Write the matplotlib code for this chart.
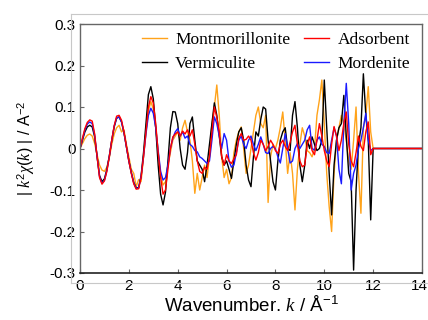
import numpy as np
import matplotlib
matplotlib.use('Agg')
import matplotlib.pyplot as plt
from matplotlib.lines import Line2D
from matplotlib.transforms import ScaledTranslation

plt.rcParams['font.family'] = 'Liberation Sans'
plt.rcParams['mathtext.fontset'] = 'custom'
plt.rcParams['mathtext.rm'] = 'Liberation Sans'
plt.rcParams['mathtext.it'] = 'Liberation Serif:italic'

# k grid (0 .. 12 step 0.1) plus the zero tail out to 14
k = list(np.round(np.arange(0, 12.05, 0.1), 1)) + [14.0]

montmorillonite = [
    0.000, 0.012, 0.024, 0.032, 0.035, 0.030, 0.012, -0.015, -0.040, -0.052,
    -0.055, -0.045, -0.022, 0.010, 0.035, 0.050, 0.056, 0.040, 0.045, 0.010,
    -0.020, -0.050, -0.060, -0.092, -0.075, -0.080, -0.020, 0.040, 0.090, 0.113,
    0.095, 0.050, -0.010, -0.060, -0.088, -0.080, -0.040, -0.010, 0.020, 0.030,
    0.040, 0.020, 0.050, 0.068, 0.040, 0.020, -0.030, -0.108, -0.060, -0.100,
    -0.070, -0.040, -0.070, -0.020, 0.060, 0.100, 0.153, 0.080, -0.020, -0.070,
    -0.050, -0.085, -0.070, -0.010, 0.020, 0.040, 0.052, 0.000, -0.060, -0.040,
    0.000, 0.040, 0.080, 0.100, 0.060, 0.050, 0.080, -0.130, -0.020, 0.010,
    0.000, 0.020, 0.050, 0.088, 0.020, -0.060, -0.010, -0.060, -0.148, -0.050,
    0.010, 0.050, 0.030, -0.005, -0.010, -0.020, 0.000, 0.080, 0.117, 0.165,
    0.060, -0.060, -0.140, -0.200, -0.060, 0.020, 0.050, 0.080, 0.060, 0.020,
    -0.030, -0.050, 0.020, 0.100, -0.060, -0.156, 0.050, 0.080, 0.149, 0.040,
    0.000, 0.000]

vermiculite = [
    0.000, 0.020, 0.040, 0.052, 0.056, 0.052, 0.028, -0.020, -0.065, -0.080,
    -0.073, -0.050, -0.018, 0.020, 0.052, 0.073, 0.076, 0.064, 0.038, 0.004,
    -0.030, -0.058, -0.082, -0.095, -0.094, -0.066, -0.010, 0.060, 0.130, 0.149,
    0.120, 0.050, -0.040, -0.110, -0.136, -0.105, -0.030, 0.050, 0.089, 0.088,
    0.060, 0.000, -0.040, -0.050, -0.010, 0.060, 0.076, 0.020, -0.030, -0.040,
    -0.050, -0.080, -0.040, 0.010, 0.060, 0.110, 0.080, 0.030, -0.020, -0.040,
    -0.030, -0.050, -0.072, -0.030, 0.010, 0.040, 0.050, 0.020, -0.040, -0.076,
    -0.092, -0.020, 0.040, 0.030, 0.070, 0.100, 0.095, 0.020, -0.030, -0.080,
    -0.100, -0.030, 0.020, 0.040, 0.050, 0.000, -0.005, 0.080, 0.113, 0.050,
    -0.040, -0.080, -0.040, 0.020, 0.000, 0.028, 0.010, -0.005, 0.000, 0.020,
    0.165, 0.050, -0.060, -0.160, -0.040, 0.020, 0.050, 0.060, 0.128, 0.030,
    -0.060, -0.080, -0.293, -0.100, 0.010, 0.050, 0.180, 0.080, 0.020, -0.172,
    0.000, 0.000]

adsorbent = [
    0.000, 0.025, 0.048, 0.063, 0.069, 0.066, 0.035, -0.020, -0.070, -0.086,
    -0.078, -0.055, -0.020, 0.020, 0.055, 0.078, 0.080, 0.068, 0.040, 0.005,
    -0.030, -0.060, -0.085, -0.098, -0.097, -0.070, -0.020, 0.040, 0.100, 0.125,
    0.110, 0.060, -0.010, -0.070, -0.110, -0.100, -0.050, 0.000, 0.028, 0.035,
    0.040, 0.030, 0.042, 0.035, 0.045, 0.030, 0.045, 0.010, -0.030, -0.055,
    -0.060, -0.045, -0.050, -0.020, 0.040, 0.100, 0.075, 0.040, -0.020, -0.040,
    -0.015, -0.030, -0.036, -0.025, -0.015, 0.025, 0.036, 0.020, 0.022, 0.030,
    0.020, -0.010, -0.028, -0.010, 0.020, 0.010, -0.005, 0.005, 0.020, 0.010,
    -0.005, -0.012, 0.010, 0.020, 0.005, -0.005, 0.015, 0.040, 0.056, 0.010,
    -0.030, -0.044, -0.040, 0.010, 0.028, -0.005, -0.015, 0.020, 0.060, 0.030,
    -0.005, -0.030, -0.044, 0.010, 0.053, 0.030, -0.005, 0.020, 0.060, 0.088,
    0.010, -0.030, -0.044, -0.010, 0.030, 0.005, -0.005, 0.040, 0.064, -0.015,
    0.000, 0.000]

mordenite = [
    0.000, 0.022, 0.045, 0.059, 0.064, 0.060, 0.032, -0.020, -0.068, -0.084,
    -0.077, -0.053, -0.019, 0.020, 0.054, 0.074, 0.076, 0.064, 0.038, 0.004,
    -0.030, -0.058, -0.083, -0.096, -0.095, -0.068, -0.020, 0.035, 0.080, 0.097,
    0.085, 0.050, -0.005, -0.055, -0.076, -0.070, -0.040, 0.000, 0.025, 0.040,
    0.048, 0.030, 0.040, 0.025, 0.030, 0.010, 0.005, -0.005, -0.008, -0.020,
    -0.024, -0.030, -0.036, -0.030, 0.020, 0.076, 0.060, 0.030, 0.000, 0.036,
    0.020, -0.030, -0.045, -0.040, -0.010, 0.020, 0.030, 0.010, 0.000, 0.020,
    0.030, 0.010, -0.005, 0.010, 0.028, 0.010, -0.010, -0.012, 0.000, 0.005,
    0.000, -0.020, -0.035, 0.000, 0.036, 0.000, -0.035, -0.030, 0.000, 0.012,
    0.000, 0.010, 0.020, 0.045, 0.056, 0.000, -0.004, 0.020, 0.028, 0.010,
    0.005, -0.010, -0.012, 0.020, 0.050, 0.030, -0.050, -0.085, 0.060, 0.157,
    0.060, -0.100, -0.060, -0.040, 0.000, 0.020, 0.050, 0.085, 0.020, -0.005,
    0.000, 0.000]

fig = plt.figure(figsize=(4.28, 3.2), dpi=100)
ax = fig.add_axes([80/428, 47/320, 342/428, 249/320])

l_mont, = ax.plot(k, montmorillonite, color='#ffa31a', lw=1.0)
l_verm, = ax.plot(k, vermiculite, color='black', lw=1.0)
l_mord, = ax.plot(k, mordenite, color='#1a1aff', lw=1.0)
l_ads, = ax.plot(k, adsorbent, color='#ff0000', lw=1.0)

ax.set_xlim(0, 14)
ax.set_ylim(-0.3, 0.3)
ax.set_xticks([0, 2, 4, 6, 8, 10, 12, 14])
ax.set_xticklabels(['0', '2', '4', '6', '8', '10', '12', '14'])
ax.set_yticks([-0.3, -0.2, -0.1, 0, 0.1, 0.2, 0.3])
ax.set_yticklabels(['-0.3', '-0.2', '-0.1', '0', '0.1', '0.2', '0.3'])
ax.tick_params(direction='in', length=3, width=0.8, color='#666666', labelsize=11)
ax.tick_params(axis='y', pad=3)
ax.tick_params(axis='x', pad=4)
for s in ['left', 'top', 'right']:
    ax.spines[s].set_color('#666666')
    ax.spines[s].set_linewidth(1.0)
ax.spines['bottom'].set_color('#222222')
ax.spines['bottom'].set_linewidth(1.2)

# nudge the last x label so it stays inside the picture
last = ax.get_xticklabels()[-1]
last.set_transform(last.get_transform() + ScaledTranslation(-3/100, 0, fig.dpi_scale_trans))

# light gray outer frame lines
W, H = 428, 320
gray = '#c8c8c8'
fig.add_artist(Line2D([71/W, 71/W], [(H-14)/H, (H-283)/H], color=gray, lw=0.8))
fig.add_artist(Line2D([71/W, 1], [(H-14)/H, (H-14)/H], color=gray, lw=0.8))
fig.add_artist(Line2D([71/W, 1], [(H-283)/H, (H-283)/H], color=gray, lw=0.8))

ax.set_xlabel(r'Wavenumber. $k$ / Å$^{-1}$', fontsize=13.5, labelpad=2)
ax.set_ylabel(r'| $k^2\chi(k)$ | / A$^{-2}$', fontsize=11.5, labelpad=9)

leg = ax.legend([l_mont, l_verm, l_ads, l_mord],
                ['Montmorillonite', 'Vermiculite', 'Adsorbent', 'Mordenite'],
                ncol=2, frameon=False, loc='upper right',
                bbox_to_anchor=(0.965, 0.97), borderaxespad=0, borderpad=0,
                prop={'family': 'Liberation Serif', 'size': 12.5},
                handlelength=1.45, handletextpad=0.46, columnspacing=0.8,
                labelspacing=0.45)

fig.savefig('out.png', dpi=100)
